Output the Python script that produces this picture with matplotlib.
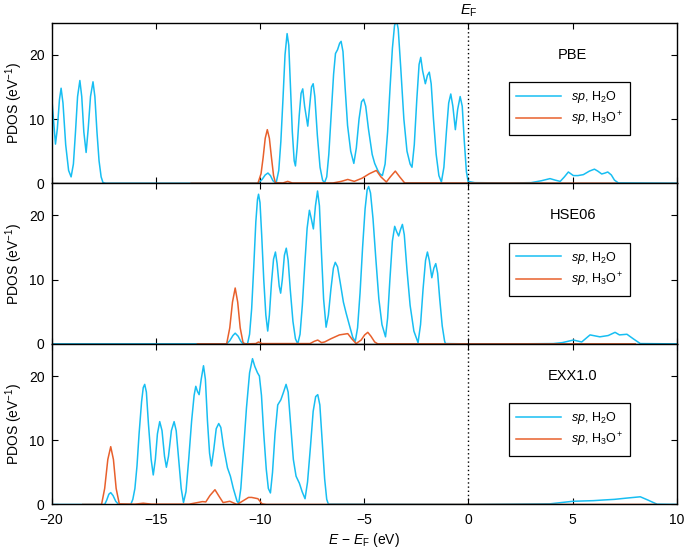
import numpy as np
import matplotlib
matplotlib.use('Agg')
import matplotlib.pyplot as plt

plt.rcParams['font.family'] = ['Liberation Sans', 'DejaVu Sans']
plt.rcParams['mathtext.fontset'] = 'custom'
plt.rcParams['mathtext.rm'] = 'Liberation Sans'
plt.rcParams['mathtext.it'] = 'Liberation Sans:italic'
plt.rcParams['mathtext.bf'] = 'Liberation Sans:bold'

# PBE, sp H2O
pbe_h2o_e = [-20.0, -19.92, -19.81, -19.72, -19.62, -19.54, -19.45, -19.32, -19.18, -19.06,
             -18.95, -18.85, -18.75, -18.64, -18.55, -18.45, -18.34, -18.24, -18.13, -18.01,
             -17.92, -17.82, -17.72, -17.62, -17.53, -17.4, -10.1, -9.9, -9.75, -9.62,
             -9.5, -9.38, -9.23, -9.1, -9.0, -8.9, -8.8, -8.70, -8.62, -8.54,
             -8.45, -8.36, -8.30, -8.22, -8.12, -8.03, -7.95, -7.86, -7.71, -7.62,
             -7.53, -7.45, -7.37, -7.25, -7.12, -7.00, -6.91, -6.80, -6.70, -6.58,
             -6.47, -6.38, -6.28, -6.18, -6.11, -6.02, -5.92, -5.80, -5.65, -5.50,
             -5.38, -5.25, -5.13, -5.03, -4.93, -4.80, -4.62, -4.50, -4.35, -4.26,
             -4.13, -4.00, -3.88, -3.76, -3.65, -3.55, -3.46, -3.37, -3.25, -3.10,
             -2.95, -2.80, -2.71, -2.60, -2.48, -2.37, -2.29, -2.20, -2.07, -1.97,
             -1.88, -1.79, -1.68, -1.55, -1.42, -1.30, -1.18, -1.06, -0.95, -0.85,
             -0.75, -0.63, -0.52, -0.40, -0.30, -0.20, -0.10, -0.02, 0.3, 2.0,
             3.0, 3.5, 3.91, 4.15, 4.4, 4.6, 4.79, 5.03, 5.25, 5.51,
             5.8, 6.04, 6.2, 6.39, 6.55, 6.68, 6.85, 7.0, 7.19, 10.0]
pbe_h2o_y = [13.9, 10.5, 6.1, 8.5, 13.0, 14.8, 12.5, 6.0, 2.0, 1.0,
             3.0, 8.0, 13.5, 16.0, 13.5, 8.0, 4.8, 8.5, 13.5, 15.8,
             13.5, 8.0, 3.5, 1.0, 0.1, 0.0, 0.0, 0.6, 1.3, 1.6,
             1.2, 0.4, 0.0, 2.0, 6.5, 13.0, 20.0, 23.3, 21.5, 15.0,
             8.0, 3.5, 2.7, 5.5, 10.5, 14.0, 14.7, 12.0, 8.9, 12.0,
             15.0, 15.5, 13.5, 7.5, 2.5, 0.5, 0.05, 1.0, 4.5, 11.0,
             17.0, 20.2, 20.8, 21.8, 22.1, 20.5, 15.0, 9.0, 5.0, 3.1,
             5.5, 10.0, 12.7, 13.1, 12.0, 8.5, 4.5, 3.1, 2.0, 1.5,
             1.2, 3.0, 8.0, 15.0, 21.0, 24.5, 25.5, 24.0, 18.0, 10.0,
             5.0, 3.0, 2.5, 6.0, 13.0, 18.5, 19.6, 17.5, 15.5, 16.8,
             17.3, 15.5, 10.0, 4.5, 1.2, 0.2, 2.5, 8.0, 12.5, 13.9,
             12.0, 8.35, 11.5, 13.5, 12.0, 6.5, 1.8, 0.3, 0.1, 0.05,
             0.1, 0.4, 0.73, 0.5, 0.3, 1.0, 1.76, 1.2, 1.2, 1.35,
             1.9, 2.2, 1.9, 1.45, 1.6, 1.76, 1.3, 0.5, 0.05, 0.0]

# PBE, sp H3O+
pbe_h3o_e = [-13.3, -10.1, -9.95, -9.85, -9.75, -9.65, -9.55, -9.45, -9.35, -9.26,
             -8.9, -8.67, -8.45, -6.5, -6.1, -5.79, -5.48, -5.1, -4.75, -4.42,
             -4.2, -3.94, -3.75, -3.51, -3.3, -3.06, 7.1]
pbe_h3o_y = [0.0, 0.0, 1.5, 4.0, 7.0, 8.35, 7.0, 4.0, 1.2, 0.1,
             0.05, 0.3, 0.05, 0.05, 0.3, 0.6, 0.3, 0.8, 1.5, 2.0,
             1.0, 0.2, 1.0, 1.9, 1.0, 0.05, 0.0]

# HSE06, sp H2O
hse_h2o_e = [-20.0, -11.6, -11.45, -11.3, -11.19, -11.05, -10.92, -10.84, -10.6, -10.5,
             -10.4, -10.3, -10.2, -10.12, -10.07, -10.0, -9.92, -9.82, -9.72, -9.63,
             -9.55, -9.45, -9.35, -9.26, -9.18, -9.08, -9.01, -8.93, -8.83, -8.74,
             -8.65, -8.55, -8.42, -8.30, -8.19, -8.08, -7.97, -7.85, -7.74, -7.63,
             -7.54, -7.44, -7.34, -7.24, -7.15, -7.05, -6.95, -6.83, -6.72, -6.60,
             -6.48, -6.39, -6.28, -6.15, -6.00, -5.87, -5.72, -5.55, -5.43, -5.32,
             -5.20, -5.08, -4.96, -4.86, -4.79, -4.70, -4.58, -4.45, -4.30, -4.15,
             -3.98, -3.88, -3.77, -3.65, -3.54, -3.45, -3.35, -3.26, -3.17, -3.08,
             -2.95, -2.80, -2.62, -2.42, -2.30, -2.18, -2.06, -1.97, -1.88, -1.76,
             -1.66, -1.57, -1.48, -1.38, -1.26, -1.15, -1.11, 0.0, 2.0, 4.07,
             4.5, 5.03, 5.43, 5.83, 6.3, 6.7, 7.03, 7.24, 7.6, 7.9,
             8.24, 10.0]
hse_h2o_y = [0.0, 0.0, 0.5, 1.3, 1.67, 1.2, 0.4, 0.1, 0.0, 1.5,
             5.5, 12.0, 19.0, 22.5, 23.3, 22.0, 17.0, 10.0, 4.5, 2.0,
             4.5, 9.5, 13.2, 14.3, 12.5, 9.0, 7.9, 10.0, 13.8, 14.9,
             13.0, 8.5, 3.5, 0.8, 0.0, 1.5, 6.0, 12.5, 18.0, 20.8,
             19.5, 17.9, 21.5, 23.8, 21.5, 14.0, 7.0, 2.6, 4.5, 8.5,
             11.8, 12.7, 12.0, 9.5, 6.5, 4.8, 3.0, 1.0, 0.4, 2.5,
             8.0, 15.0, 21.0, 24.0, 24.5, 23.5, 19.5, 13.5, 7.0, 3.0,
             1.1, 4.0, 10.0, 16.0, 18.3, 17.5, 16.8, 17.8, 18.6, 17.0,
             11.5, 6.0, 2.0, 0.2, 3.0, 8.5, 13.0, 14.3, 13.0, 10.3,
             11.8, 12.5, 11.0, 7.0, 2.8, 0.5, 0.05, 0.0, 0.0, 0.05,
             0.2, 0.6, 0.3, 1.4, 1.1, 1.3, 1.8, 1.4, 1.5, 0.8,
             0.05, 0.0]

# HSE06, sp H3O+
hse_h3o_e = [-13.0, -11.6, -11.45, -11.32, -11.19, -11.07, -10.95, -10.82, -10.75, -10.2,
             -10.07, -9.9, -7.6, -7.4, -7.23, -7.05, -6.9, -6.6, -6.19, -5.79,
             -5.6, -5.39, -5.15, -4.98, -4.83, -4.68, -4.5, -4.35, 8.0]
hse_h3o_y = [0.0, 0.0, 2.5, 6.5, 8.7, 6.5, 2.5, 0.3, 0.0, 0.05,
             0.3, 0.05, 0.05, 0.4, 0.6, 0.2, 0.3, 0.8, 1.4, 1.6,
             0.8, 0.05, 0.6, 1.4, 1.8, 1.2, 0.3, 0.0, 0.0]

# EXX1.0, sp H2O
exx_h2o_e = [-20.0, -17.45, -17.35, -17.25, -17.16, -17.05, -16.92, -16.78, -16.2, -16.1,
             -16.0, -15.9, -15.8, -15.68, -15.6, -15.53, -15.45, -15.35, -15.22, -15.12,
             -15.02, -14.92, -14.81, -14.70, -14.58, -14.49, -14.39, -14.25, -14.12, -14.02,
             -13.90, -13.78, -13.67, -13.55, -13.42, -13.28, -13.16, -13.08, -13.00, -12.92,
             -12.82, -12.71, -12.62, -12.52, -12.42, -12.33, -12.22, -12.10, -11.98, -11.88,
             -11.75, -11.56, -11.42, -11.28, -11.10, -11.02, -10.92, -10.80, -10.65, -10.50,
             -10.36, -10.25, -10.12, -10.03, -9.93, -9.82, -9.70, -9.60, -9.50, -9.40,
             -9.28, -9.15, -9.00, -8.87, -8.75, -8.65, -8.52, -8.40, -8.27, -8.11,
             -7.98, -7.84, -7.72, -7.58, -7.45, -7.33, -7.23, -7.13, -7.02, -6.90,
             -6.80, -6.72, 0.0, 3.9, 5.0, 6.0, 6.47, 7.0, 7.6, 8.24,
             8.6, 9.04, 10.0]
exx_h2o_y = [0.0, 0.0, 0.7, 1.6, 1.85, 1.4, 0.5, 0.0, 0.0, 0.8,
             2.5, 6.0, 11.0, 16.0, 18.2, 18.7, 17.5, 12.5, 7.0, 4.6,
             7.0, 11.0, 12.9, 11.5, 7.5, 5.8, 7.5, 11.5, 12.9, 11.5,
             7.0, 2.5, 0.3, 2.0, 7.0, 13.0, 17.0, 18.4, 17.6, 17.1,
             19.5, 21.6, 19.5, 13.0, 8.0, 6.0, 8.5, 11.8, 12.6, 12.0,
             9.0, 5.7, 4.4, 2.5, 0.5, 0.2, 2.5, 8.0, 15.0, 20.5,
             22.7, 21.5, 20.5, 20.0, 17.0, 11.0, 5.5, 2.5, 1.8, 5.0,
             11.0, 15.5, 16.3, 17.5, 18.7, 17.5, 12.0, 7.0, 4.4, 3.3,
             2.0, 0.9, 3.5, 9.0, 14.5, 16.8, 17.1, 15.5, 10.0, 4.0,
             0.8, 0.05, 0.0, 0.1, 0.5, 0.6, 0.7, 0.8, 1.0, 1.2,
             0.7, 0.05, 0.0]

# EXX1.0, sp H3O+
exx_h3o_e = [-18.5, -17.6, -17.45, -17.3, -17.16, -17.03, -16.9, -16.75, -16.0, -15.6,
             -15.2, -13.4, -13.0, -12.76, -12.6, -12.4, -12.16, -11.95, -11.77, -11.45,
             -11.1, -10.8, -10.55, -10.4, -10.1, -9.9, -9.7, 9.0]
exx_h3o_y = [0.0, 0.0, 2.5, 7.0, 9.0, 7.0, 2.5, 0.1, 0.05, 0.2,
             0.05, 0.05, 0.3, 0.45, 0.4, 1.4, 2.3, 1.2, 0.3, 0.5,
             0.0, 0.6, 1.1, 1.1, 0.9, 0.1, 0.0, 0.0]

methods = ['PBE', 'HSE06', 'EXX1.0']
h2o_e = [pbe_h2o_e, hse_h2o_e, exx_h2o_e]
h2o_y = [pbe_h2o_y, hse_h2o_y, exx_h2o_y]
h3o_e = [pbe_h3o_e, hse_h3o_e, exx_h3o_e]
h3o_y = [pbe_h3o_y, hse_h3o_y, exx_h3o_y]

c_h2o = '#17BEF2'
c_h3o = '#E8602C'

fig, axes = plt.subplots(3, 1, figsize=(6.85, 5.51), dpi=100, sharex=True)
fig.subplots_adjust(left=0.0752, right=0.9883, top=0.9588, bottom=0.0844, hspace=0)

for i, ax in enumerate(axes):
    ax.plot(h2o_e[i], h2o_y[i], color=c_h2o, lw=1.1, label='$sp$, H$_2$O')
    ax.plot(h3o_e[i], h3o_y[i], color=c_h3o, lw=1.1, label='$sp$, H$_3$O$^+$')
    ax.axvline(0, color='black', lw=1.0, ls=(0, (1, 2)))
    ax.set_xlim(-20, 10)
    ax.set_ylim(0, 25)
    ax.set_yticks([0, 10, 20])
    ax.set_xticks([-20, -15, -10, -5, 0, 5, 10])
    ax.tick_params(direction='in', top=True, right=True, length=4, width=0.8, labelsize=10)
    ax.tick_params(axis='y', pad=5)
    ax.tick_params(axis='x', pad=6)
    for s in ax.spines.values():
        s.set_linewidth(1.0)
    ax.set_ylabel('PDOS (eV$^{-1}$)', fontsize=10, labelpad=3)
    ax.text(5, 20, methods[i], ha='center', va='center', fontsize=10.5)
    leg = ax.legend(loc='upper left', bbox_to_anchor=(0.731, 0.63), fontsize=9,
                    frameon=True, fancybox=False, edgecolor='black', framealpha=1,
                    handlelength=3.6, borderpad=0.55, labelspacing=0.4,
                    handletextpad=0.8, borderaxespad=0)
    leg.get_frame().set_linewidth(0.9)

axes[0].text(0, 25.6, '$E_\\mathrm{F}$', ha='center', va='bottom', fontsize=10.5)
axes[2].set_xlabel('$E$ \u2212 $E_\\mathrm{F}$ (eV)', fontsize=10, labelpad=3)

plt.savefig('out.png', dpi=100)
